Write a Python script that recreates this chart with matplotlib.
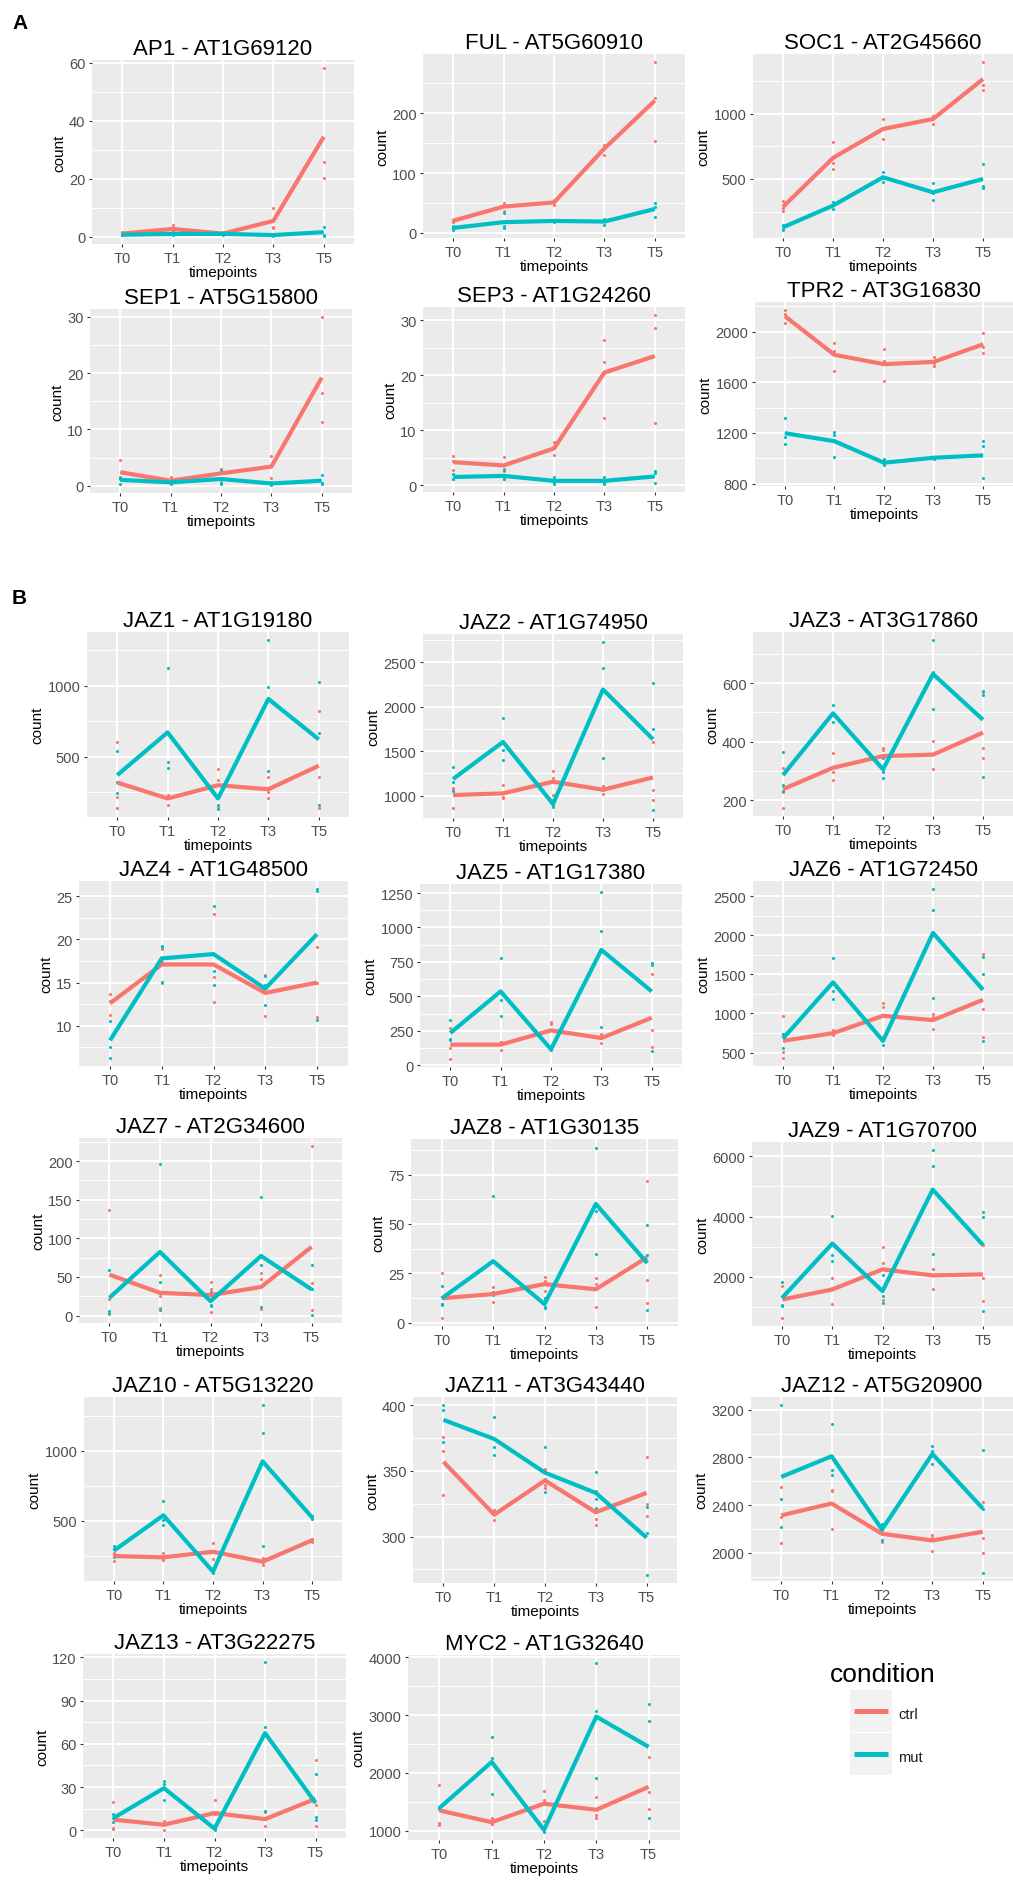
import numpy as np
import matplotlib
matplotlib.use("Agg")
import matplotlib.pyplot as plt
from matplotlib.patches import Rectangle

plt.rcParams["font.family"] = ["Liberation Sans", "DejaVu Sans"]

# ---------------------------------------------------------------- data
timepoints = ["T0", "T1", "T2", "T3", "T5"]
conditions = ["ctrl", "mut"]

# AP1 - AT1G69120
ap1_ctrl = [1.0, 2.6, 1.0, 5.4, 34.4]
ap1_ctrl_reps = [[1.4, 0.8, 0.8], [3.9, 2.0, 1.9], [1.2, 0.9, 0.9], [10.0, 3.2, 3.0], [58.0, 25.6, 20.3]]
ap1_mut = [0.6, 0.9, 0.9, 0.5, 1.5]
ap1_mut_reps = [[0.9, 0.5, 0.4], [1.3, 0.8, 0.6], [1.5, 0.7, 0.5], [0.8, 0.4, 0.3], [3.4, 0.6, 0.3]]
ap1_yticks = [0, 20, 40, 60]

# FUL - AT5G60910
ful_ctrl = [20.4, 44, 51, 141, 221]
ful_ctrl_reps = [[22, 21, 18], [50, 47, 36], [46, 52, 55], [146, 130, 147], [285, 226, 154]]
ful_mut = [8.3, 18, 20, 19, 40]
ful_mut_reps = [[11, 5.5, 8.5], [34, 11, 9], [20, 19, 21], [14, 20, 23], [50, 27, 43]]
ful_yticks = [0, 100, 200]

# SOC1 - AT2G45660
soc1_ctrl = [286, 661, 883, 959, 1265]
soc1_ctrl_reps = [[329, 253, 276], [783, 622, 578], [959, 806, 884], [985, 923, 969], [1393, 1222, 1180]]
soc1_mut = [130, 296, 513, 398, 500]
soc1_mut_reps = [[150, 112, 128], [321, 270, 297], [556, 474, 509], [467, 337, 390], [617, 449, 431]]
soc1_yticks = [500, 1000]

# SEP1 - AT5G15800
sep1_ctrl = [2.4, 0.9, 2.2, 3.4, 19.2]
sep1_ctrl_reps = [[4.5, 1.5, 1.2], [1.5, 0.7, 0.5], [3.0, 2.5, 1.1], [5.3, 1.3, 3.6], [29.9, 16.5, 11.4]]
sep1_mut = [1.05, 0.6, 1.2, 0.4, 0.9]
sep1_mut_reps = [[1.3, 0.4, 1.4], [1.0, 0.5, 0.3], [2.8, 0.5, 0.3], [0.6, 0.4, 0.2], [1.9, 0.3, 0.5]]
sep1_yticks = [0, 10, 20, 30]

# SEP3 - AT1G24260
sep3_ctrl = [4.2, 3.6, 6.7, 20.5, 23.5]
sep3_ctrl_reps = [[5.3, 2.8, 4.5], [5.2, 3.0, 2.6], [7.9, 5.5, 6.7], [26.5, 22.5, 12.3], [30.9, 28.7, 11.4]]
sep3_mut = [1.5, 1.7, 0.8, 0.8, 1.6]
sep3_mut_reps = [[2.1, 1.2, 1.2], [2.7, 1.2, 1.2], [1.5, 0.6, 0.3], [1.5, 0.6, 0.3], [2.5, 2.3, 0.4]]
sep3_yticks = [0, 10, 20, 30]

# TPR2 - AT3G16830
tpr2_ctrl = [2123, 1817, 1743, 1761, 1900]
tpr2_ctrl_reps = [[2168, 2141, 2071], [1913, 1848, 1686], [1861, 1769, 1607], [1801, 1730, 1752], [1987, 1879, 1835]]
tpr2_mut = [1198, 1135, 965, 1004, 1023]
tpr2_mut_reps = [[1319, 1168, 1109], [1211, 1180, 1010], [996, 944, 955], [1010, 992, 1010], [1133, 1096, 847]]
tpr2_yticks = [800, 1200, 1600, 2000]

# JAZ1 - AT1G19180
jaz1_ctrl = [319, 207, 300, 272, 437]
jaz1_ctrl_reps = [[601, 141, 215], [164, 225, 232], [413, 340, 147], [359, 207, 250], [822, 359, 141]]
jaz1_mut = [371, 671, 207, 906, 622]
jaz1_mut_reps = [[542, 324, 248], [1122, 460, 418], [305, 160, 136], [1317, 993, 401], [1023, 669, 164]]
jaz1_yticks = [500, 1000]

# JAZ2 - AT1G74950
jaz2_ctrl = [1007, 1026, 1157, 1067, 1205]
jaz2_ctrl_reps = [[1082, 866, 1073], [1119, 981, 978], [1272, 1194, 1005], [1112, 1067, 1022], [1063, 951, 1601]]
jaz2_mut = [1187, 1604, 907, 2194, 1634]
jaz2_mut_reps = [[1328, 1157, 1056], [1869, 1511, 1403], [869, 900, 950], [2724, 2436, 1422], [2269, 1746, 843]]
jaz2_yticks = [1000, 1500, 2000, 2500]

# JAZ3 - AT3G17860
jaz3_ctrl = [238, 311, 351, 356, 431]
jaz3_ctrl_reps = [[311, 175, 228], [362, 297, 271], [379, 371, 304], [401, 308, 359], [571, 379, 346]]
jaz3_mut = [286, 497, 306, 631, 475]
jaz3_mut_reps = [[365, 252, 232], [527, 495, 469], [277, 297, 344], [746, 510, 637], [574, 559, 280]]
jaz3_yticks = [200, 400, 600]

# JAZ4 - AT1G48500
jaz4_ctrl = [12.6, 17.1, 17.1, 13.8, 15.0]
jaz4_ctrl_reps = [[13.7, 11.2, 12.9], [18.9, 15.0, 17.4], [22.9, 15.6, 12.8], [15.9, 11.1, 14.4], [19.1, 11.0, 14.9]]
jaz4_mut = [8.3, 17.8, 18.3, 14.3, 20.6]
jaz4_mut_reps = [[10.6, 7.5, 6.3], [19.2, 15.1, 19.1], [23.9, 16.3, 14.7], [15.8, 12.4, 14.7], [25.8, 25.6, 10.7]]
jaz4_yticks = [10, 15, 20, 25]

# JAZ5 - AT1G17380
jaz5_ctrl = [150, 150, 253, 198, 345]
jaz5_ctrl_reps = [[270, 125, 48], [169, 113, 168], [314, 302, 143], [229, 162, 203], [659, 253, 133]]
jaz5_mut = [234, 536, 116, 837, 536]
jaz5_mut_reps = [[331, 181, 190], [777, 475, 357], [109, 115, 124], [1255, 977, 277], [743, 729, 101]]
jaz5_yticks = [0, 250, 500, 750, 1000, 1250]

# JAZ6 - AT1G72450
jaz6_ctrl = [650, 748, 970, 915, 1175]
jaz6_ctrl_reps = [[970, 513, 436], [786, 722, 735], [1133, 1077, 700], [992, 799, 954], [1761, 1056, 701]]
jaz6_mut = [680, 1398, 650, 2030, 1303]
jaz6_mut_reps = [[735, 564, 741], [1705, 1291, 1184], [598, 680, 672], [2586, 2317, 1192], [1718, 1504, 650]]
jaz6_yticks = [500, 1000, 1500, 2000, 2500]

# JAZ7 - AT2G34600
jaz7_ctrl = [53, 29.5, 26.5, 37, 89]
jaz7_ctrl_reps = [[137, 21, 2.6], [53, 25, 10], [43, 34, 4.3], [55, 47, 9], [219, 42.5, 7.8]]
jaz7_mut = [23, 82.4, 18.7, 77.2, 33.8]
jaz7_mut_reps = [[59, 5.6, 3.5], [196, 43.4, 6.9], [14, 12, 30], [154, 65, 11.3], [65.5, 1.3, 34.6]]
jaz7_yticks = [0, 50, 100, 150, 200]

# JAZ8 - AT1G30135
jaz8_ctrl = [12.3, 14.5, 19.5, 16.9, 33.1]
jaz8_ctrl_reps = [[25.1, 2.6, 9.2], [17.8, 10.6, 15.1], [22.9, 21.2, 16.1], [22.6, 19.6, 8.0], [71.6, 21.7, 9.7]]
jaz8_mut = [12.3, 31.1, 9.4, 60.1, 30.2]
jaz8_mut_reps = [[18.8, 9.2, 8.9], [63.9, 14.0, 15.4], [8.0, 12.6, 7.6], [88.7, 56.7, 34.9], [49.4, 34.2, 6.3]]
jaz8_yticks = [0, 25, 50, 75]

# JAZ9 - AT1G70700
jaz9_ctrl = [1242, 1577, 2245, 2045, 2078]
jaz9_ctrl_reps = [[1688, 1354, 641], [1967, 1632, 1098], [2991, 2446, 1242], [2267, 2267, 1599], [3047, 1944, 1187]]
jaz9_mut = [1298, 3103, 1521, 4896, 3058]
jaz9_mut_reps = [[1822, 1075, 1020], [4005, 2713, 2524], [2056, 1131, 1376], [6200, 5676, 2746], [4139, 3972, 875]]
jaz9_yticks = [2000, 4000, 6000]

# JAZ10 - AT5G13220
jaz10_ctrl = [250, 241, 281, 210, 363]
jaz10_ctrl_reps = [[264, 217, 270], [274, 226, 223], [340, 226, 278], [234, 186, 210], [352, 363, 374]]
jaz10_mut = [288, 540, 139, 924, 524]
jaz10_mut_reps = [[321, 297, 246], [641, 471, 508], [132, 139, 146], [1323, 1123, 321], [512, 524, 536]]
jaz10_yticks = [500, 1000]

# JAZ11 - AT3G43440
jaz11_ctrl = [357, 316.7, 342.8, 318.5, 333.3]
jaz11_ctrl_reps = [[375.6, 365.4, 331.5], [312.8, 320.0, 317.3], [351.3, 339.0, 337.2], [335.0, 313.6, 308.5], [360.8, 324.9, 315.4]]
jaz11_mut = [389, 374.4, 348.7, 333.3, 299.2]
jaz11_mut_reps = [[400.0, 396.7, 371.8], [391.0, 368.0, 362.3], [368.0, 333.8, 344.0], [349.5, 321.8, 328.6], [322.3, 302.6, 271.0]]
jaz11_yticks = [300, 350, 400]

# JAZ12 - AT5G20900
jaz12_ctrl = [2313, 2413, 2159, 2103, 2176]
jaz12_ctrl_reps = [[2553, 2084, 2302], [2522, 2201, 2516], [2089, 2200, 2188], [2148, 2120, 2014], [2424, 2120, 1994]]
jaz12_mut = [2636, 2809, 2195, 2829, 2371]
jaz12_mut_reps = [[3236, 2452, 2215], [3080, 2698, 2650], [2103, 2240, 2242], [2899, 2851, 2745], [2865, 2368, 1833]]
jaz12_yticks = [2000, 2400, 2800, 3200]

# JAZ13 - AT3G22275
jaz13_ctrl = [7.4, 3.9, 12.0, 7.8, 21.9]
jaz13_ctrl_reps = [[19.6, 1.6, 1.0], [6.7, 0.5, 4.5], [20.8, 11.5, 3.7], [12.7, 2.8, 7.9], [48.5, 17.3, 2.8]]
jaz13_mut = [8.5, 29.3, 1.2, 67.4, 18.9]
jaz13_mut_reps = [[11.3, 5.5, 8.7], [34.4, 21.2, 32.3], [1.2, 0.5, 2.0], [116.5, 72.0, 13.6], [39.0, 9.0, 6.9]]
jaz13_yticks = [0, 30, 60, 90, 120]

# MYC2 - AT1G32640
myc2_ctrl = [1349, 1146, 1466, 1361, 1757]
myc2_ctrl_reps = [[1798, 1128, 1099], [1215, 1116, 1107], [1681, 1536, 1169], [1577, 1274, 1215], [2281, 1664, 1373]]
myc2_mut = [1390, 2188, 1012, 2974, 2450]
myc2_mut_reps = [[1400, 1380, 1390], [2613, 2264, 1635], [983, 1030, 1023], [3895, 3079, 1914], [3196, 2904, 1215]]
myc2_yticks = [1000, 2000, 3000, 4000]

panels = [
    ("AP1 - AT1G69120", ap1_ctrl, ap1_ctrl_reps, ap1_mut, ap1_mut_reps, ap1_yticks),
    ("FUL - AT5G60910", ful_ctrl, ful_ctrl_reps, ful_mut, ful_mut_reps, ful_yticks),
    ("SOC1 - AT2G45660", soc1_ctrl, soc1_ctrl_reps, soc1_mut, soc1_mut_reps, soc1_yticks),
    ("SEP1 - AT5G15800", sep1_ctrl, sep1_ctrl_reps, sep1_mut, sep1_mut_reps, sep1_yticks),
    ("SEP3 - AT1G24260", sep3_ctrl, sep3_ctrl_reps, sep3_mut, sep3_mut_reps, sep3_yticks),
    ("TPR2 - AT3G16830", tpr2_ctrl, tpr2_ctrl_reps, tpr2_mut, tpr2_mut_reps, tpr2_yticks),
    ("JAZ1 - AT1G19180", jaz1_ctrl, jaz1_ctrl_reps, jaz1_mut, jaz1_mut_reps, jaz1_yticks),
    ("JAZ2 - AT1G74950", jaz2_ctrl, jaz2_ctrl_reps, jaz2_mut, jaz2_mut_reps, jaz2_yticks),
    ("JAZ3 - AT3G17860", jaz3_ctrl, jaz3_ctrl_reps, jaz3_mut, jaz3_mut_reps, jaz3_yticks),
    ("JAZ4 - AT1G48500", jaz4_ctrl, jaz4_ctrl_reps, jaz4_mut, jaz4_mut_reps, jaz4_yticks),
    ("JAZ5 - AT1G17380", jaz5_ctrl, jaz5_ctrl_reps, jaz5_mut, jaz5_mut_reps, jaz5_yticks),
    ("JAZ6 - AT1G72450", jaz6_ctrl, jaz6_ctrl_reps, jaz6_mut, jaz6_mut_reps, jaz6_yticks),
    ("JAZ7 - AT2G34600", jaz7_ctrl, jaz7_ctrl_reps, jaz7_mut, jaz7_mut_reps, jaz7_yticks),
    ("JAZ8 - AT1G30135", jaz8_ctrl, jaz8_ctrl_reps, jaz8_mut, jaz8_mut_reps, jaz8_yticks),
    ("JAZ9 - AT1G70700", jaz9_ctrl, jaz9_ctrl_reps, jaz9_mut, jaz9_mut_reps, jaz9_yticks),
    ("JAZ10 - AT5G13220", jaz10_ctrl, jaz10_ctrl_reps, jaz10_mut, jaz10_mut_reps, jaz10_yticks),
    ("JAZ11 - AT3G43440", jaz11_ctrl, jaz11_ctrl_reps, jaz11_mut, jaz11_mut_reps, jaz11_yticks),
    ("JAZ12 - AT5G20900", jaz12_ctrl, jaz12_ctrl_reps, jaz12_mut, jaz12_mut_reps, jaz12_yticks),
    ("JAZ13 - AT3G22275", jaz13_ctrl, jaz13_ctrl_reps, jaz13_mut, jaz13_mut_reps, jaz13_yticks),
    ("MYC2 - AT1G32640", myc2_ctrl, myc2_ctrl_reps, myc2_mut, myc2_mut_reps, myc2_yticks),
]

# ---------------------------------------------------------------- layout (pixels: left, top, right, bottom)
W, H = 1013, 1881
boxes = [
    (92, 61, 354, 245), (423, 55, 685, 239), (753, 55, 1013, 239),
    (90, 310, 352, 494), (423, 308, 685, 493), (755, 303, 1013, 487),
    (87, 633, 349, 818), (423, 635, 683, 819), (753, 633, 1013, 817),
    (79, 882, 348, 1067), (420, 885, 682, 1068), (753, 882, 1013, 1067),
    (79, 1139, 342, 1324), (411, 1140, 678, 1327), (752, 1143, 1013, 1327),
    (84, 1398, 342, 1582), (413, 1398, 677, 1584), (751, 1398, 1013, 1582),
    (83, 1655, 346, 1839), (408, 1656, 680, 1841),
]

CTRL_COLOR = "#F8766D"
MUT_COLOR = "#00BFC4"
PANEL_BG = "#EBEBEB"


def px_rect(box):
    l, t, r, b = box
    return [l / W, 1 - b / H, (r - l) / W, (b - t) / H]


fig = plt.figure(figsize=(W / 100, H / 100), dpi=100)
fig.patch.set_facecolor("white")


def draw_panel(box, title, ctrl_mean, ctrl_reps, mut_mean, mut_reps, yticks):
    ax = fig.add_axes(px_rect(box))
    ax.set_facecolor(PANEL_BG)
    ax.set_axisbelow(True)
    x = np.arange(1, len(timepoints) + 1)

    # replicate points underneath the mean lines
    for reps, color in ((ctrl_reps, CTRL_COLOR), (mut_reps, MUT_COLOR)):
        xs = np.repeat(x, [len(r) for r in reps])
        ys = np.concatenate([np.asarray(r, float) for r in reps])
        ax.scatter(xs, ys, s=5, color=color, linewidths=0, zorder=3)

    ax.plot(x, ctrl_mean, color=CTRL_COLOR, lw=3.0, zorder=4,
            solid_capstyle="butt", solid_joinstyle="round")
    ax.plot(x, mut_mean, color=MUT_COLOR, lw=3.0, zorder=5,
            solid_capstyle="butt", solid_joinstyle="round")

    vals = np.concatenate([np.asarray(ctrl_mean, float), np.asarray(mut_mean, float),
                           np.concatenate([np.asarray(r, float) for r in ctrl_reps]),
                           np.concatenate([np.asarray(r, float) for r in mut_reps])])
    lo, hi = vals.min(), vals.max()
    pad = 0.05 * (hi - lo)
    ax.set_xlim(0.4, len(timepoints) + 0.6)

    ax.set_xticks(x)
    ax.set_xticklabels(timepoints)
    ax.set_yticks(yticks)
    ax.set_yticklabels([f"{t:g}" for t in yticks])
    step = yticks[1] - yticks[0]
    minors = [yticks[0] - step / 2] + [t + step / 2 for t in yticks]
    ax.set_yticks(minors, minor=True)
    ax.set_ylim(lo - pad, hi + pad)

    ax.grid(which="major", color="white", lw=1.4)
    ax.grid(which="minor", axis="y", color="white", lw=0.7)
    ax.tick_params(which="major", length=2.2, width=0.8, color="#333333",
                   labelcolor="#4D4D4D", labelsize=10.5, pad=2.5)
    ax.tick_params(which="minor", length=0)
    ax.tick_params(axis="x", which="minor", bottom=False)
    for sp in ax.spines.values():
        sp.set_visible(False)

    ax.set_xlabel("timepoints", fontsize=11, labelpad=0.5)
    ax.set_ylabel("count", fontsize=11, labelpad=2)
    ax.set_title(title, fontsize=16, pad=4.5)
    return ax


for box, spec in zip(boxes, panels):
    draw_panel(box, *spec)

# panel letters
fig.text(12 / W, 1 - 14 / H, "A", fontsize=15, fontweight="bold", va="top", ha="left")
fig.text(12 / W, 1 - 589 / H, "B", fontsize=15, fontweight="bold", va="top", ha="left")

# legend drawn in a pixel-space overlay
lax = fig.add_axes([0, 0, 1, 1], zorder=10)
lax.set_xlim(0, W)
lax.set_ylim(H, 0)
lax.axis("off")
lax.text(883, 1682, "condition", fontsize=19, ha="center", va="baseline")
key_l, key_w, key_h, key_t = 850, 42, 42, 1691
for i, (label, color) in enumerate(zip(conditions, (CTRL_COLOR, MUT_COLOR))):
    top = key_t + i * (key_h + 1)
    lax.add_patch(Rectangle((key_l, top), key_w, key_h, facecolor="#F2F2F2",
                            edgecolor="none"))
    cy = top + key_h / 2
    lax.plot([key_l + 4, key_l + key_w - 4], [cy, cy], color=color, lw=3.6,
             solid_capstyle="butt")
    lax.text(key_l + key_w + 6, cy + 3, label, fontsize=10.5, ha="left", va="center",
             color="#1A1A1A")

fig.savefig("out.png", dpi=100, facecolor="white")
